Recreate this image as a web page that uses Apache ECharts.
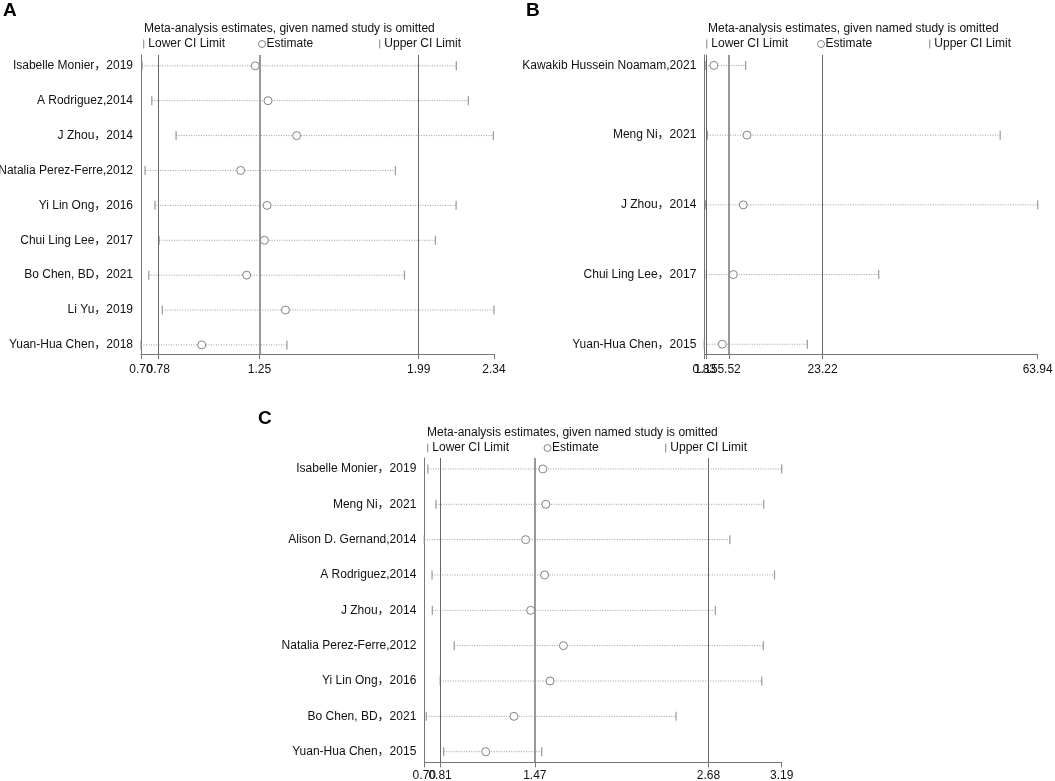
<!DOCTYPE html>
<html>
<head>
<meta charset="utf-8">
<script src="https://cdn.jsdelivr.net/npm/echarts@6/dist/echarts.min.js"></script>
<style>
html,body{margin:0;padding:0;background:#fff;}
#chart{width:1055px;height:781px;}
</style>
</head>
<body>
<div id="chart"></div>
<script>
// ---------- DATA ----------
const studiesA = ['Isabelle Monier，2019','A Rodriguez,2014','J Zhou，2014','Natalia Perez-Ferre,2012','Yi Lin Ong，2016','Chui Ling Lee，2017','Bo Chen, BD，2021','Li Yu，2019','Yuan-Hua Chen，2018'];
const lowerA = [0.705, 0.750, 0.863, 0.719, 0.765, 0.784, 0.736, 0.799, 0.700];
const estA   = [1.231, 1.290, 1.423, 1.163, 1.286, 1.273, 1.191, 1.371, 0.982];
const upperA = [2.165, 2.221, 2.337, 1.882, 2.164, 2.068, 1.924, 2.340, 1.378];
const ticksA = [0.70, 0.78, 1.25, 1.99, 2.34];
const refA   = [0.78, 1.25, 1.99];

const studiesB = ['Kawakib Hussein Noamam,2021','Meng Ni，2021','J Zhou，2014','Chui Ling Lee，2017','Yuan-Hua Chen，2015'];
const lowerB = [1.13, 1.42, 1.02, 1.21, 0.83];
const estB   = [2.65, 8.91, 8.21, 6.32, 4.24];
const upperB = [8.65, 56.84, 63.94, 33.84, 20.33];
const ticksB = [0.83, 1.15, 5.52, 23.22, 63.94];
const refB   = [1.15, 5.52, 23.22];

const studiesC = ['Isabelle Monier，2019','Meng Ni，2021','Alison D. Gernand,2014','A Rodriguez,2014','J Zhou，2014','Natalia Perez-Ferre,2012','Yi Lin Ong，2016','Bo Chen, BD，2021','Yuan-Hua Chen，2015'];
const lowerC = [0.725, 0.782, 0.700, 0.754, 0.756, 0.909, 0.811, 0.714, 0.835];
const estC   = [1.526, 1.547, 1.406, 1.538, 1.441, 1.669, 1.576, 1.325, 1.128];
const upperC = [3.190, 3.065, 2.829, 3.140, 2.728, 3.062, 3.051, 2.454, 1.518];
const ticksC = [0.70, 0.81, 1.47, 2.68, 3.19];
const refC   = [0.81, 1.47, 2.68];

const panelLetters = ['A', 'B', 'C'];
const headingText = 'Meta-analysis estimates, given named study is omitted';
const legendNames = ['Lower CI Limit', 'Estimate', 'Upper CI Limit'];

// ---------- STYLE / LAYOUT ----------
const FONT = '"Liberation Sans", Arial, "Noto Sans CJK SC", sans-serif';
const TXT = '#111';
const layouts = [
  {grid:{left:141, top:55, width:353, height:299}, yMin:0.69, yMax:9.26, xLabelMargin:10,
   letter:{left:3, top:1}, heading:{left:144, top:23}, legY:38, legX:[143, 258, 379]},
  {grid:{left:704.3, top:55, width:333.4, height:299}, yMin:0.85, yMax:5.14, xLabelMargin:10,
   letter:{left:526, top:1}, heading:{left:708, top:23}, legY:38, legX:[706, 817, 929]},
  {grid:{left:424.3, top:458, width:357.4, height:304.3}, yMin:0.69, yMax:9.30, xLabelMargin:7,
   letter:{left:258, top:409}, heading:{left:427, top:426.5}, legY:442, legX:[427, 543.5, 665]}
];
const panels = [
  {studies:studiesA, lower:lowerA, est:estA, upper:upperA, ticks:ticksA, refs:refA},
  {studies:studiesB, lower:lowerB, est:estB, upper:upperB, ticks:ticksB, refs:refB},
  {studies:studiesC, lower:lowerC, est:estC, upper:upperC, ticks:ticksC, refs:refC}
];

const option = {
  animation:false,
  backgroundColor:'#fff',
  textStyle:{fontFamily:FONT},
  title:[], legend:[], grid:[], xAxis:[], yAxis:[], series:[]
};

const LABEL_AXES = 3; // tick labels split over overlaid axes so that close labels all stay visible

panels.forEach((p, k) => {
  const L = layouts[k];
  const rows = p.studies.map((_, i) => i + 1);
  const xMin = p.ticks[0], xMax = p.ticks[p.ticks.length - 1];
  option.title.push({text:panelLetters[k], left:L.letter.left, top:L.letter.top, padding:0,
    textStyle:{fontSize:19, fontWeight:'bold', color:'#000', fontFamily:FONT}});
  option.title.push({text:headingText, left:L.heading.left, top:L.heading.top, padding:0,
    textStyle:{fontSize:12, fontWeight:'normal', color:TXT, fontFamily:FONT}});

  legendNames.forEach((nm, j) => {
    const isEst = nm === 'Estimate';
    option.legend.push({
      data:[isEst
        ? {name:nm, icon:'circle', itemStyle:{color:'#fff', borderColor:'#666', borderWidth:1}}
        : {name:nm, icon:'rect', itemStyle:{color:'#888', borderWidth:0}}],
      left:L.legX[j], top:L.legY, padding:0,
      itemWidth: isEst ? 7 : 1.3, itemHeight: isEst ? 7 : 9,
      selectedMode:false,
      textStyle:{fontSize:12, color:TXT, fontFamily:FONT, padding: isEst ? [0,0,0,-4] : [0,0,0,-1]}
    });
  });

  option.grid.push(Object.assign({containLabel:false, outerBoundsMode:'none'}, L.grid));
  const mainX = option.xAxis.length;
  option.xAxis.push({
    type:'value', gridIndex:k, min:xMin, max:xMax, position:'bottom', offset:0,
    axisLine:{show:true, onZero:false, lineStyle:{color:'#777', width:1}},
    axisTick:{show:true, customValues:p.ticks, length:5, lineStyle:{color:'#777'}},
    axisLabel:{show:false},
    splitLine:{show:false}
  });
  for (let a = 0; a < LABEL_AXES; a++) {
    const vals = p.ticks.filter((_, i) => i % LABEL_AXES === a);
    option.xAxis.push({
      type:'value', gridIndex:k, min:xMin, max:xMax, position:'bottom', offset:0,
      axisLine:{show:false}, axisTick:{show:false}, splitLine:{show:false},
      axisLabel:{show:true, customValues:vals, margin:L.xLabelMargin, fontSize:12, color:TXT, fontFamily:FONT,
        hideOverlap:false, formatter:(v) => Number(v).toFixed(2)}
    });
  }
  option.yAxis.push({
    type:'value', gridIndex:k, inverse:true, min:L.yMin, max:L.yMax,
    axisLine:{show:true, onZero:false, lineStyle:{color:'#777', width:1}},
    axisTick:{show:false},
    axisLabel:{show:true, customValues:rows, margin:8, fontSize:12, color:TXT, fontFamily:FONT,
      hideOverlap:false,
      formatter:(v) => p.studies[Math.round(v) - 1] || ''},
    splitLine:{show:false}
  });

  // dotted CI lines + reference lines
  option.series.push({
    type:'custom', xAxisIndex:mainX, yAxisIndex:k, silent:true, z:2,
    data:rows.map((r, i) => [p.lower[i], p.upper[i], r]),
    encode:{x:[0,1], y:2},
    renderItem:(params, api) => {
      const a = api.coord([api.value(0), api.value(2)]);
      const b = api.coord([api.value(1), api.value(2)]);
      return {type:'line', shape:{x1:a[0], y1:a[1], x2:b[0], y2:b[1]},
        style:{stroke:'#9a9a9a', lineWidth:1, lineDash:[1,1.5]}};
    },
    markLine:{silent:true, symbol:['none','none'], label:{show:false}, animation:false,
      data:p.refs.map((v, j) => ({xAxis:v,
        lineStyle:{type:'solid', color: j === 1 ? '#8e8e8e' : '#676767', width: j === 1 ? 1.8 : 1}}))}
  });
  option.series.push({
    name:'Lower CI Limit', type:'scatter', xAxisIndex:mainX, yAxisIndex:k, silent:true, z:3,
    symbol:'rect', symbolSize:[1.3, 9], itemStyle:{color:'#888'},
    data:rows.map((r, i) => [p.lower[i], r])
  });
  option.series.push({
    name:'Upper CI Limit', type:'scatter', xAxisIndex:mainX, yAxisIndex:k, silent:true, z:3,
    symbol:'rect', symbolSize:[1.3, 9], itemStyle:{color:'#888'},
    data:rows.map((r, i) => [p.upper[i], r])
  });
  option.series.push({
    name:'Estimate', type:'scatter', xAxisIndex:mainX, yAxisIndex:k, silent:true, z:4,
    symbol:'circle', symbolSize:8, itemStyle:{color:'#fff', borderColor:'#666', borderWidth:1},
    data:rows.map((r, i) => [p.est[i], r])
  });
});

const chart = echarts.init(document.getElementById('chart'), null, {renderer:'canvas'});
chart.setOption(option);
</script>
</body>
</html>
